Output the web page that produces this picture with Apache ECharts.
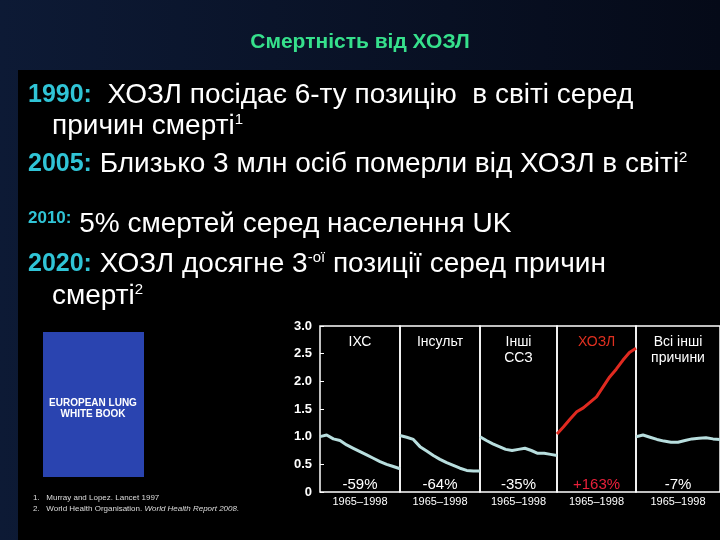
<!DOCTYPE html>
<html><head><meta charset="utf-8">
<script src="https://cdn.jsdelivr.net/npm/echarts@6/dist/echarts.min.js"></script>
<style>html,body{margin:0;padding:0;background:#000}#main{width:720px;height:540px}</style>
</head><body><div id="main"></div>
<script>
// назви панелей і підписи змін
var panelNames = ['ІХС', 'Інсульт', 'Інші\nССЗ', 'ХОЗЛ', 'Всі інші\nпричини'];
var panelChange = ['-59%', '-64%', '-35%', '+163%', '-7%'];
var yearLabel = '1965–1998';
// відносна смертність (1965 = 1.0)
var ihd = [1.0, 1.03, 0.96, 0.93, 0.85, 0.79, 0.73, 0.67, 0.61, 0.55, 0.50, 0.46, 0.42];
var stroke = [1.02, 0.99, 0.95, 0.82, 0.74, 0.66, 0.59, 0.53, 0.48, 0.43, 0.39, 0.38, 0.38];
var otherCvd = [1.0, 0.93, 0.87, 0.82, 0.77, 0.75, 0.77, 0.79, 0.75, 0.70, 0.70, 0.68, 0.66];
var copd = [1.05, 1.18, 1.32, 1.45, 1.52, 1.62, 1.72, 1.90, 2.08, 2.22, 2.38, 2.52, 2.60];
var allOther = [1.0, 1.03, 0.99, 0.95, 0.92, 0.90, 0.90, 0.93, 0.96, 0.97, 0.98, 0.96, 0.95];
var years = ['1965','1968','1971','1974','1977','1980','1983','1986','1989','1992','1995','1997','1998'];

var seriesData = [ihd, stroke, otherCvd, copd, allOther];
var chart = echarts.init(document.getElementById('main'));
var edges = [320, 400, 480, 557, 636, 720];
var grids = [], xAxes = [], yAxes = [], series = [];
for (var i = 0; i < 5; i++) {
    grids.push({left: edges[i], width: edges[i+1]-edges[i], top: 326, height: 166, show: true,
        borderColor: '#fff', borderWidth: 1.5, backgroundColor: 'transparent'});
    xAxes.push({gridIndex: i, type: 'category', data: years, boundaryGap: false,
        axisLine: {show: false}, axisTick: {show: false}, axisLabel: {show: false}});
    yAxes.push({gridIndex: i, type: 'value', min: 0, max: 3, interval: 0.5,
        splitLine: {show: false}, axisLine: {show: false},
        axisTick: {show: i === 0, inside: true, length: 4, lineStyle: {color: '#fff'}},
        axisLabel: {show: i === 0, color: '#fff', fontFamily: 'Liberation Sans', fontWeight: 'bold', fontSize: 13,
            formatter: function (v) { return v === 0 ? '0' : v.toFixed(1); }}});
    series.push({type: 'line', xAxisIndex: i, yAxisIndex: i, data: seriesData[i], symbol: 'none',
        lineStyle: {width: 3, color: i === 3 ? '#e02a20' : '#b8dede'}});
}

var graphics = [
    {type: 'rect', shape: {x: 0, y: 0, width: 720, height: 540}, style: {fill: new echarts.graphic.LinearGradient(0,0,1,0,[{offset:0,color:'#0d1a35'},{offset:1,color:'#050a18'}])}, z: -10},
    {type: 'rect', shape: {x: 18, y: 70, width: 702, height: 470}, style: {fill: '#000'}, z: -9},
    {type: 'text', left: 'center', top: 32, style: {text: 'Смертність від ХОЗЛ', fill: '#36e08c', font: 'bold 21px Liberation Sans'}}
];
var lines = [
    {x: 28, y: 81, t: '{y|1990:}  ХОЗЛ посідає 6-ту позицію  в світі серед'},
    {x: 52, y: 112, t: 'причин смерті{s|1}'},
    {x: 28, y: 150, t: '{y|2005:} Близько 3 млн осіб померли від ХОЗЛ в світі{s|2}'},
    {x: 28, y: 210, t: '{ys|2010:} 5% смертей серед населення UK'},
    {x: 28, y: 250, t: '{y|2020:} ХОЗЛ досягне 3{s|-ої} позиції серед причин'},
    {x: 52, y: 282, t: 'смерті{s|2}'}
];
lines.forEach(function (l) {
    graphics.push({type: 'text', x: l.x, y: l.y, style: {text: l.t, fill: '#fff', font: '28px Liberation Sans',
        rich: {y: {fill: '#30c4d6', font: 'bold 25px Liberation Sans'},
               ys: {fill: '#30c4d6', font: 'bold 17px Liberation Sans', verticalAlign: 'top'},
               s: {fill: '#fff', font: '15px Liberation Sans', verticalAlign: 'top'}}}});
});
// обкладинка книги
graphics.push({type: 'rect', shape: {x: 43, y: 332, width: 101, height: 145}, style: {fill: '#2a44b0'}});
graphics.push({type: 'text', x: 93, y: 398, style: {text: 'EUROPEAN LUNG\nWHITE BOOK', align: 'center', fill: '#fff', font: 'bold 10px Liberation Sans', lineHeight: 11}});
graphics.push({type: 'text', x: 33, y: 492, style: {text: '1.   Murray and Lopez. Lancet 1997\n2.   World Health Organisation. {i|World Health Report 2008.}', fill: '#ddd', font: '8px Liberation Sans', lineHeight: 11, rich: {i: {fontStyle: 'italic', fill: '#ddd', fontSize: 8}}}});
for (var j = 0; j < 5; j++) {
    var cx = (edges[j] + edges[j+1]) / 2;
    graphics.push({type: 'text', x: cx, y: 334, style: {text: panelNames[j], align: 'center', fill: j === 3 ? '#e03020' : '#fff', font: '14px Liberation Sans', lineHeight: 16}});
    graphics.push({type: 'text', x: cx, y: 477, style: {text: panelChange[j], align: 'center', fill: j === 3 ? '#e8203a' : '#fff', font: '15px Liberation Sans'}});
    graphics.push({type: 'text', x: cx, y: 496, style: {text: yearLabel, align: 'center', fill: '#fff', font: '11px Liberation Sans'}});
}

chart.setOption({
    backgroundColor: '#000',
    animation: false,
    grid: grids, xAxis: xAxes, yAxis: yAxes, series: series,
    graphic: graphics
});
</script></body></html>
